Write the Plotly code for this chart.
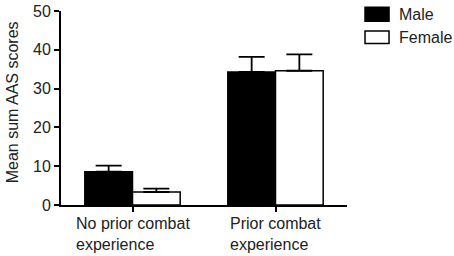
import plotly.graph_objects as go

categories = ["No prior combat<br>experience", "Prior combat<br>experience"]
series_names = ["Male", "Female"]
male_values = [8.6, 34.3]
female_values = [3.35, 34.6]
male_err = [1.55, 3.9]
female_err = [0.85, 4.2]
y_ticks = [0, 10, 20, 30, 40, 50]
y_title = "Mean sum AAS scores"

FONT = dict(family="Liberation Sans, Arial, sans-serif", size=16, color="#222222")
xpos = list(range(len(categories)))

fig = go.Figure()
fig.add_trace(go.Bar(
    x=xpos, y=male_values, name=series_names[0],
    marker=dict(color="black", line=dict(color="black", width=1.5)),
    error_y=dict(type="data", array=male_err, arrayminus=[0] * len(male_err),
                 symmetric=False, color="black", thickness=1.8, width=13),
    showlegend=False,
))
fig.add_trace(go.Bar(
    x=xpos, y=female_values, name=series_names[1],
    marker=dict(color="white", line=dict(color="black", width=1.5)),
    error_y=dict(type="data", array=female_err, arrayminus=[0] * len(female_err),
                 symmetric=False, color="black", thickness=1.8, width=13),
    showlegend=False,
))

# category labels (left-aligned multi-line, centred under the group)
for i, lab in enumerate(categories):
    fig.add_annotation(x=xpos[i], y=0, xref="x", yref="y", text=lab,
                       showarrow=False, xanchor="center", yanchor="top",
                       align="left", yshift=-8, font=FONT)

# y-axis title
fig.add_annotation(x=-0.171, y=0.53, xref="paper", yref="paper", text=y_title,
                   textangle=-90, showarrow=False, xanchor="center",
                   yanchor="middle", font=FONT)

# custom legend
legend_rows = [(series_names[0], "black", 1.019, 0.947),
               (series_names[1], "white", 0.897, 0.832)]
for name, fill, y1, y0 in legend_rows:
    fig.add_shape(type="rect", xref="paper", yref="paper",
                  x0=1.063, x1=1.147, y0=y0, y1=y1,
                  fillcolor=fill, line=dict(color="black", width=1.5))
    fig.add_annotation(x=1.175, y=(y0 + y1) / 2, xref="paper", yref="paper",
                       text=name, showarrow=False, xanchor="left",
                       yanchor="middle", font=FONT)

fig.update_layout(
    width=454, height=256,
    margin=dict(l=61, r=107, t=11, b=51, autoexpand=False),
    paper_bgcolor="white", plot_bgcolor="white",
    barmode="group", bargap=0.333, bargroupgap=0,
    font=FONT,
    showlegend=False,
)
fig.update_xaxes(range=[-0.5, 1.5], tickvals=xpos, showticklabels=False,
                 ticks="outside", ticklen=5, tickwidth=1.5, tickcolor="black",
                 showline=True, linecolor="black", linewidth=1.8,
                 showgrid=False, zeroline=False, automargin=False)
fig.update_yaxes(range=[0, 50], tickvals=y_ticks, ticks="outside", ticklen=5,
                 tickwidth=1.5, tickcolor="black",
                 showline=True, linecolor="black", linewidth=1.8,
                 showgrid=False, zeroline=False, automargin=False,
                 tickfont=FONT)

fig.write_html("out.html", config={"displayModeBar": False},
               post_script="document.body.style.margin='0';document.body.style.overflow='hidden';")
